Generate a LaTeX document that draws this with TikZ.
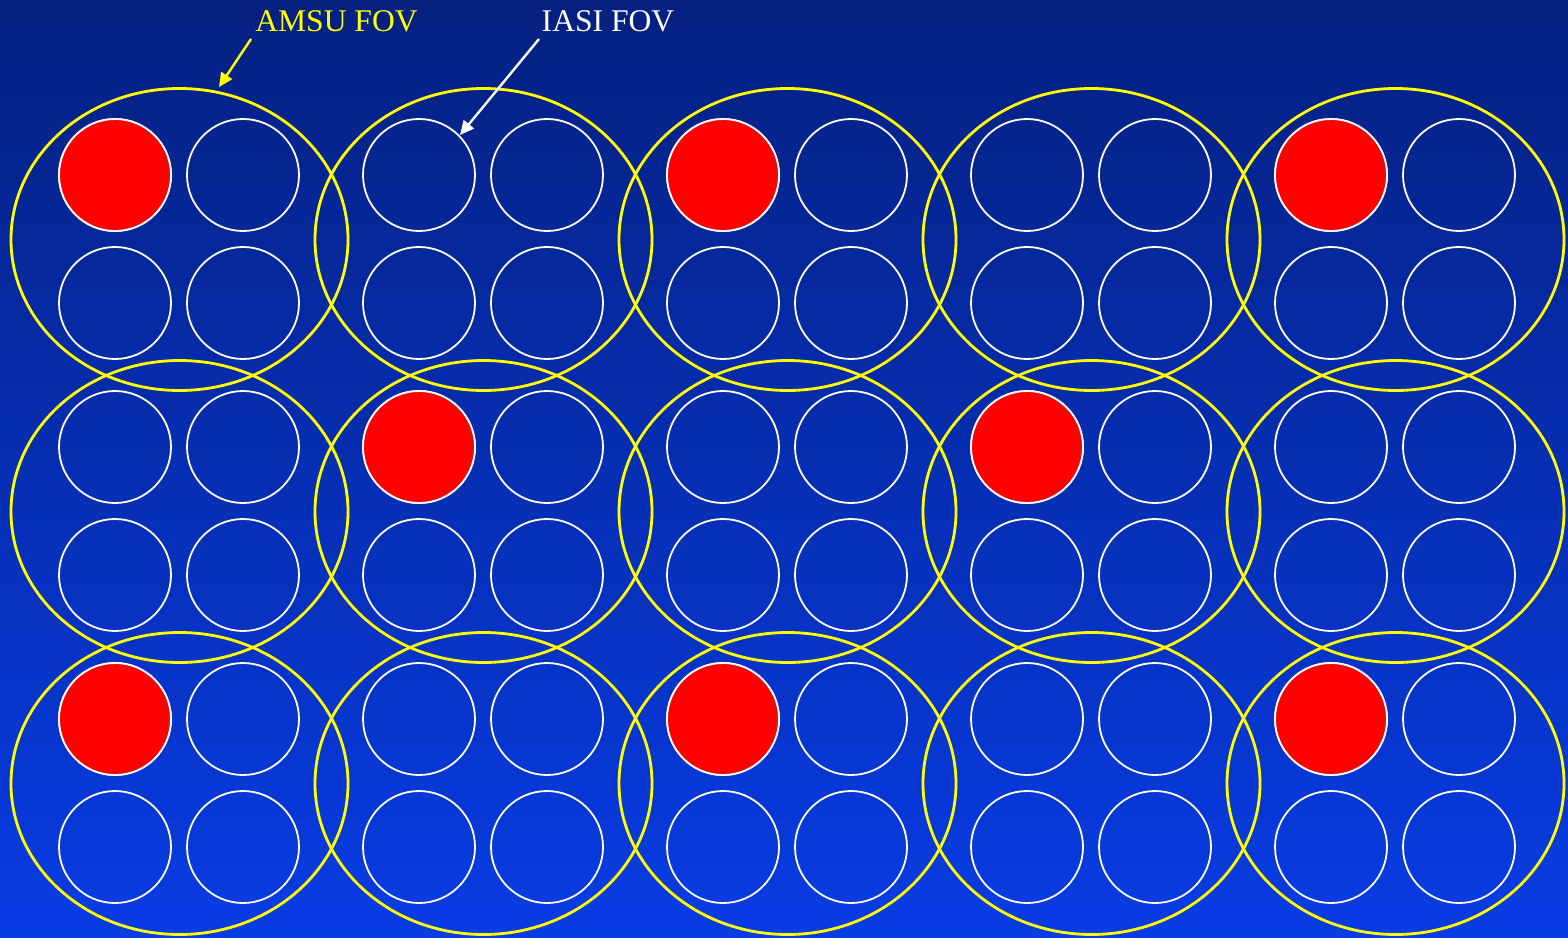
\documentclass[tikz,border=0pt]{standalone}
\usepackage{fontspec}
\setmainfont{Liberation Serif}
\usetikzlibrary{shapes.geometric,arrows.meta}
\definecolor{bgtop}{RGB}{4,32,128}
\definecolor{bgbot}{RGB}{8,60,228}
\definecolor{fovyellow}{RGB}{255,255,0}
\definecolor{fovred}{RGB}{255,0,0}
\tikzset{
  amsu/.style={ellipse, draw=fovyellow, line width=1.4pt, minimum width=168.5pt, minimum height=151pt, inner sep=0pt},
  iasi/.style={circle, draw=white, line width=0.9pt, minimum size=56pt, inner sep=0pt},
  iasired/.style={iasi, fill=fovred},
  lbl/.style={font=\fontsize{15.8}{19}\selectfont, anchor=base, inner sep=0pt},
  pointer/.style={line width=1.2pt, -{Triangle[length=7pt,width=6.5pt]}}
}
\begin{document}
\begin{tikzpicture}[x=0.5pt,y=-0.5pt]
\useasboundingbox (0,0) rectangle (1568,937);
\shade[top color=bgtop, bottom color=bgbot] (0,0) rectangle (1568,937);
% IASI circles
\foreach \r in {0,1,2}{
  \foreach \c in {0,...,4}{
    \foreach \i in {0,1}{
      \foreach \j in {0,1}{
        \node[iasi] (c-\r-\c-\i-\j) at ({115+304*\c+128*\i},{175+272*\r+128*\j}) {};
      }
    }
  }
}
% red highlighted IASI FOVs
\foreach \r/\c in {0/0,0/2,0/4,1/1,1/3,2/0,2/2,2/4}{
  \node[iasired] at (c-\r-\c-0-0) {};
}
% AMSU ellipses
\foreach \r in {0,1,2}{
  \foreach \c in {0,...,4}{
    \node[amsu] (e-\r-\c) at ({179.5+304*\c},{239+272*\r+0.5}) {};
  }
}
% labels
\node[lbl, text=fovyellow] (amsulbl) at (336.5,32) {AMSU FOV};
\node[lbl, text=white] (iasilbl) at (608,32) {IASI FOV};
\coordinate (amsustart) at (251,39);
\coordinate (amsutip) at (219,87);
\coordinate (iasistart) at (539,39);
\coordinate (iasitip) at (460,135);
\draw[pointer, draw=fovyellow, fill=fovyellow] (amsustart) -- (amsutip);
\draw[pointer, draw=white, fill=white] (iasistart) -- (iasitip);
\end{tikzpicture}
\end{document}
